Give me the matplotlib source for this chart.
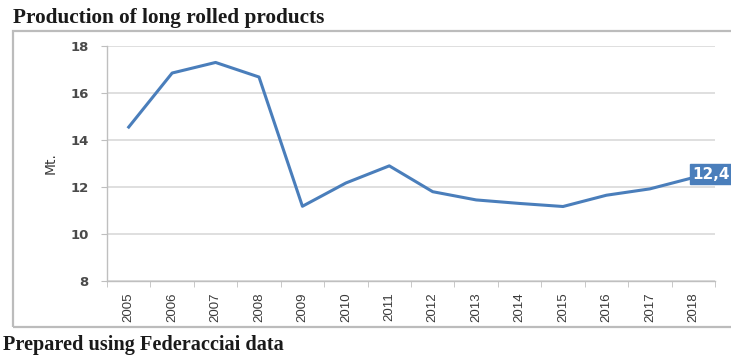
import matplotlib
matplotlib.use("Agg")
import matplotlib.pyplot as plt
from matplotlib.patches import Rectangle
import numpy as np

years = ["2005", "2006", "2007", "2008", "2009", "2010", "2011",
         "2012", "2013", "2014", "2015", "2016", "2017", "2018"]
production_mt = [14.55, 16.85, 17.3, 16.68, 11.18, 12.17, 12.9,
                 11.8, 11.45, 11.3, 11.17, 11.65, 11.92, 12.4]
y_ticks = [8, 10, 12, 14, 16, 18]
last_label = "12,4"

W, H = 731, 358
fig = plt.figure(figsize=(W / 100, H / 100), dpi=100)
fig.patch.set_facecolor("white")

# outer frame around the chart area
fig.patches.append(Rectangle((13 / W, 1 - 327 / H), (W - 10) / W, (327 - 31) / H,
                             transform=fig.transFigure, fill=False,
                             edgecolor="#bcbcbc", linewidth=1.6))

ax = fig.add_axes([107 / W, 1 - 281 / H, (715 - 107) / W, (281 - 46) / H])
x = np.arange(len(years))
line_color = "#4a7ebb"
ax.plot(x, production_mt, color=line_color, linewidth=2.2, solid_joinstyle="round")

ax.set_xlim(-0.5, len(years) - 0.5)
ax.set_ylim(8, 18)
ax.set_yticks(y_ticks)
ax.set_yticklabels([str(v) for v in y_ticks], fontsize=9.5, fontweight="bold",
                   color="#4a4a4a", family="DejaVu Sans")
ax.yaxis.grid(True, color="#d9d9d9", linewidth=1.2)
ax.set_axisbelow(True)

ax.set_xticks(x)
ax.set_xticklabels(years, rotation=90, fontsize=9.5, color="#3a3a3a",
                   family="Liberation Sans")
ax.set_xticks(np.arange(-0.5, len(years), 1), minor=True)
ax.tick_params(axis="x", which="major", length=0, pad=8)
ax.tick_params(axis="x", which="minor", length=4, color="#bfbfbf")
ax.tick_params(axis="y", length=4, color="#bfbfbf", pad=9)

for side in ("top", "right"):
    ax.spines[side].set_visible(False)
for side in ("left", "bottom"):
    ax.spines[side].set_color("#bfbfbf")
    ax.spines[side].set_linewidth(1.0)

ax.set_ylabel("Mt.", fontsize=10, color="#3a3a3a", family="DejaVu Sans",
              labelpad=9)

ax.annotate(last_label, (x[-1], production_mt[-1]), xytext=(-1.0, 2.5),
            textcoords="offset points", ha="left", va="center",
            fontsize=11, fontweight="bold", color="white", family="DejaVu Sans",
            annotation_clip=False,
            bbox=dict(boxstyle="square,pad=0.15", facecolor=line_color,
                      edgecolor=line_color))

fig.text(13 / W, 1 - 18 / H, "Production of long rolled products",
         fontsize=15.3, fontweight="bold", family="Liberation Serif",
         color="#1a1a1a", va="center", ha="left")
fig.text(3 / W, 1 - 345 / H, "Prepared using Federacciai data",
         fontsize=14.6, fontweight="bold", family="Liberation Serif",
         color="#1a1a1a", va="center", ha="left")

fig.savefig("out.png", dpi=100, facecolor="white")
